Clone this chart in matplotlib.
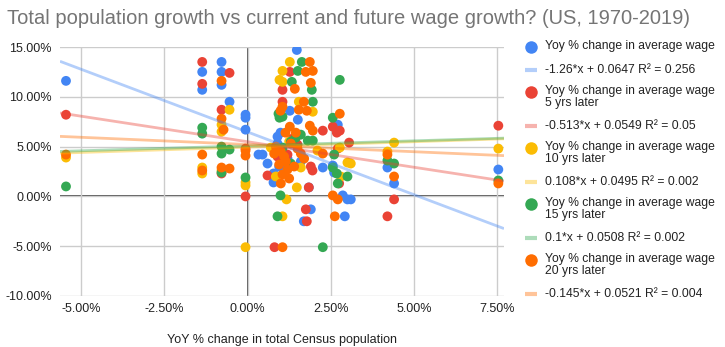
import numpy as np
import matplotlib
matplotlib.use("Agg")
import matplotlib.pyplot as plt
from matplotlib.ticker import FuncFormatter

plt.rcParams['font.family'] = ['Liberation Sans', 'DejaVu Sans']

# values in percent
wage_x = [-5.45, -1.36, -1.36, -0.78, -0.78, -0.78, -0.54, -0.06, -0.06, -0.06, 0.33, 0.45,
          0.6, 0.78, 0.78, 0.9, 0.9, 0.99, 1.27, 1.48, 1.51, 1.05, 1.2, 1.84, 1.9, 1.69,
          2.26, 2.56, 2.6, 2.71, 2.86, 3.0, 2.92, 3.1, 4.2, 4.4, 7.53, 1.6, 0.95]
wage_y = [11.6, 12.5, 10.7, 13.5, 12.5, 11.2, 9.5, 8.2, 7.9, 6.7, 4.2, 4.2,
          3.3, 1.4, 2.3, 6.0, 5.3, 6.4, 8.6, 14.7, 7.7, 4.6, 3.8, 0.9, -1.3, -2.5,
          2.9, 3.1, 2.4, 7.2, 0.1, -0.3, -2.0, -0.3, 2.9, 1.3, 2.7, 3.5, 3.0]

w5_x = [-5.45, -1.36, -1.36, -0.54, -0.78, -0.78, -0.06, -0.06, 0.6, 0.81, 1.05, 1.05,
        1.27, 0.9, 1.75, 1.78, 1.84, 1.9, 1.95, 2.26, 2.56, 2.68, 2.77, 2.71, 2.75,
        3.05, 4.4, 4.2, 7.53, 1.2, 1.5, 1.35]
w5_y = [8.2, 13.5, 11.3, 12.4, 8.7, 2.3, 4.8, 0.0, 2.1, -5.1, 10.7, 9.5,
        12.5, 4.0, -1.3, -2.5, 0.9, 3.0, 2.6, 6.6, 7.0, 6.4, 6.6, 4.8, 1.3,
        5.4, -0.3, -2.0, 7.1, 4.2, 5.2, 5.8]

w10_x = [-5.45, -1.36, -1.36, -0.54, -0.78, -0.78, -0.78, -0.06, -0.06, -0.06, 0.96, 1.05,
         1.05, 1.27, 1.54, 1.96, 0.85, 1.05, 1.17, 1.48, 1.6, 1.25, 2.77, 2.8, 3.0,
         3.1, 4.2, 4.4, 7.53, 2.1, 0.7]
w10_y = [3.9, 2.9, 2.3, 8.7, 7.2, 6.5, 2.6, 1.4, 1.1, -5.1, 11.7, 11.5,
         12.6, 13.5, 9.5, 8.5, 2.0, -2.0, -0.3, 0.9, 2.9, 5.5, 4.9, 2.0, 3.4,
         3.3, 4.5, 5.4, 4.8, 4.6, 4.9]

w15_x = [-5.45, -1.36, -1.36, -0.78, -0.54, -0.78, -0.78, -0.06, 0.93, 1.05, 0.96, 1.33,
         1.51, 1.63, 1.93, 1.96, 1.45, 1.81, 1.96, 1.3, 0.99, 0.9, 2.26, 2.56, 2.77,
         2.56, 2.68, 2.71, 3.0, 2.6, 4.2, 4.4, 7.53, 1.3, 1.05, 1.6]
w15_y = [1.0, 6.9, 6.3, 5.0, 4.7, 4.3, 2.4, 1.9, 8.3, 8.0, 7.9, 11.5,
         12.6, 13.5, 10.7, 9.5, 5.9, 5.6, 5.6, 3.3, 0.1, -2.0, -5.1, 7.9, 11.7,
         2.9, 2.3, 1.3, 2.0, 4.2, 3.6, 3.3, 1.6, 5.5, 4.9, 6.2]

w20_x = [-5.45, -1.36, -1.36, -0.78, -0.78, -0.72, -0.78, -0.54, -0.06, -0.06, 1.05, 1.87,
         1.75, 1.96, 1.9, 1.42, 1.69, 1.05, 0.99, 1.54, 1.78, 1.87, 1.96, 1.27, 1.45,
         1.14, 2.77, 2.26, 2.56, 2.71, 2.62, 4.2, 4.4, 7.53, 0.85, 1.0, 1.1, 1.15,
         0.95, 1.2, 1.05, 1.3, 1.5, 1.4, 1.6, 1.7, 0.8, 1.25, 1.0]
w20_y = [4.2, 4.2, 2.6, 11.6, 7.8, 6.7, 2.9, 2.8, 4.6, 4.1, -5.1, 13.5,
         12.5, 12.6, 11.4, 10.8, 9.5, 9.0, 8.6, 8.7, 8.6, 7.1, 6.6, 7.0, 6.4,
         6.4, 8.3, 4.3, 0.1, -0.3, -2.0, 4.2, 2.0, 1.3, 5.0, 4.5, 4.0, 3.5,
         3.2, 2.7, 2.2, 5.3, 4.8, 3.0, 4.3, 3.8, 4.3, 1.8, 1.3]

series_names = ["Yoy % change in average wage",
                "Yoy % change in average wage\n5 yrs later",
                "Yoy % change in average wage\n10 yrs later",
                "Yoy % change in average wage\n15 yrs later",
                "Yoy % change in average wage\n20 yrs later"]
trend_slope = [-1.26, -0.513, 0.108, 0.1, -0.145]
trend_icept = [0.0647, 0.0549, 0.0495, 0.0508, 0.0521]
trend_r2 = ["0.256", "0.05", "0.002", "0.002", "0.004"]
colors = ["#4285F4", "#EA4335", "#FBBC04", "#34A853", "#FF6D01"]

xs = [wage_x, w5_x, w10_x, w15_x, w20_x]
ys = [wage_y, w5_y, w10_y, w15_y, w20_y]

fig = plt.figure(figsize=(7.25, 3.47), dpi=100)
ax = fig.add_axes([60 / 725, 1 - 296 / 347, 444 / 725, 249 / 347])

xlim = (-0.0563, 0.077)
ax.set_xlim(*xlim)
ax.set_ylim(-0.10, 0.15)

for i in range(5):
    ax.scatter(np.array(xs[i]) / 100, np.array(ys[i]) / 100, s=50, color=colors[i],
               edgecolors='none', zorder=3 + i)

# trendlines across the full axis
tx = np.array(xlim)
for i in range(5):
    ax.plot(tx, trend_slope[i] * tx + trend_icept[i], color=colors[i], alpha=0.4,
            lw=2, zorder=10, solid_capstyle='butt')

xticks = [-0.05, -0.025, 0, 0.025, 0.05, 0.075]
yticks = [-0.10, -0.05, 0, 0.05, 0.10, 0.15]
ax.set_xticks(xticks)
ax.set_yticks(yticks)
pct = FuncFormatter(lambda v, p: f"{v * 100:.2f}%")
ax.xaxis.set_major_formatter(pct)
ax.yaxis.set_major_formatter(pct)
ax.grid(True, color="#cccccc", lw=1, zorder=0)
ax.axhline(0, color="#333333", lw=1.2, zorder=1)
ax.axvline(0, color="#333333", lw=1.2, zorder=1)
for s in ax.spines.values():
    s.set_visible(False)
ax.tick_params(length=0, labelsize=9, labelcolor="#222222")
ax.tick_params(axis='x', pad=5)
ax.tick_params(axis='y', pad=6)
ax.set_xlabel("YoY % change in total Census population", fontsize=9, color="#222222",
              labelpad=14)

fig.text(7 / 725, 1 - 18 / 347, "Total population growth vs current and future wage growth? (US, 1970-2019)",
         fontsize=14.5, color="#757575", va='center', ha='left')

# legend drawn in pixel coordinates
lax = fig.add_axes([0, 0, 1, 1])
lax.set_xlim(0, 725)
lax.set_ylim(347, 0)
lax.axis('off')
circle_y = [47, 92, 148, 204, 260]
line_y = [70, 126, 182, 238, 294]
for i in range(5):
    lax.plot([531], [circle_y[i]], 'o', ms=9, color=colors[i], mec='none')
    lax.text(545, circle_y[i] - 7, series_names[i], fontsize=8.7, color="#222222",
             va='top', ha='left', linespacing=0.95)
    lax.plot([525, 537], [line_y[i], line_y[i]], color=colors[i], alpha=0.4, lw=3,
             solid_capstyle='butt')
    lax.text(545, line_y[i], f"{trend_slope[i]:g}*x + {trend_icept[i]:g} R² = {trend_r2[i]}",
             fontsize=8.7, color="#222222", va='center', ha='left')

fig.savefig("out.png", dpi=100)
